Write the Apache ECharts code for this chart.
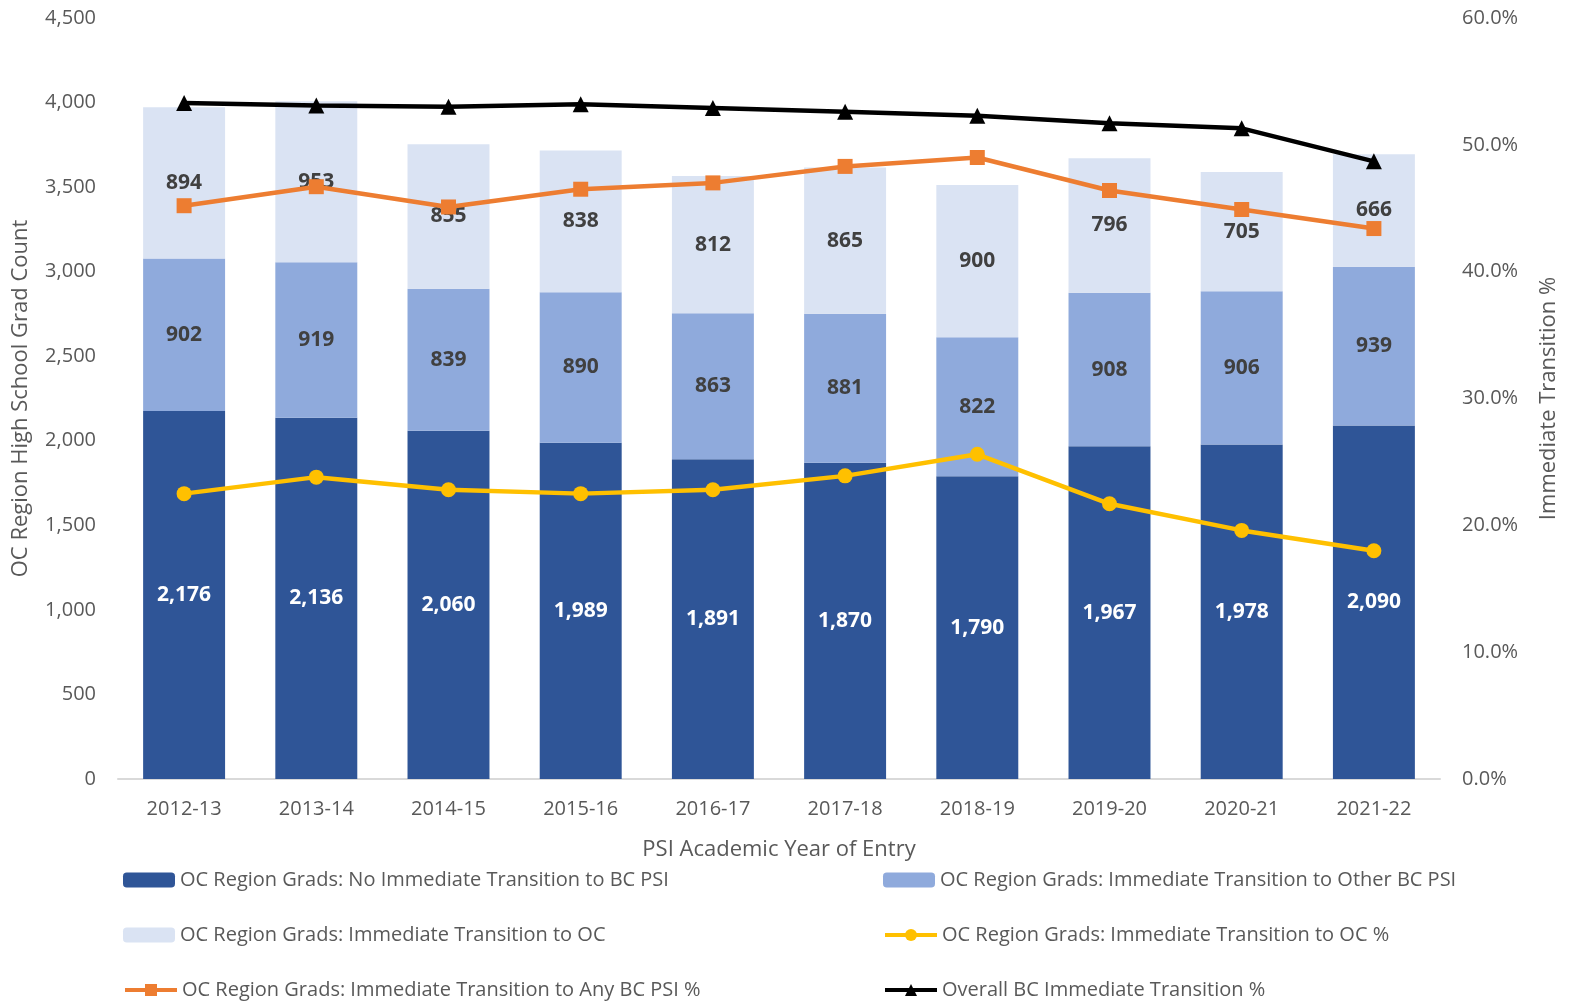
<!DOCTYPE html>
<html lang="en">
<head>
    <meta charset="UTF-8">
    <title>OC Region Grad Transitions</title>
    <script src="https://cdn.jsdelivr.net/npm/echarts@6/dist/echarts.min.js"></script>
    <style>
        html, body { margin: 0; padding: 0; background: #fff; }
        #main { width: 1572px; height: 1002px; }
    </style>
</head>
<body>
<div id="main"></div>
<script type="text/javascript">
    // data
    var years = ['2012-13','2013-14','2014-15','2015-16','2016-17','2017-18','2018-19','2019-20','2020-21','2021-22'];
    var noTransition = [2176, 2136, 2060, 1989, 1891, 1870, 1790, 1967, 1978, 2090];
    var otherBcPsi = [902, 919, 839, 890, 863, 881, 822, 908, 906, 939];
    var toOc = [894, 953, 855, 838, 812, 865, 900, 796, 705, 666];
    var toOcPct = [22.5, 23.8, 22.8, 22.5, 22.8, 23.9, 25.6, 21.7, 19.6, 18.0];
    var anyBcPct = [45.2, 46.7, 45.1, 46.5, 47.0, 48.3, 49.0, 46.4, 44.9, 43.4];
    var overallBcPct = [53.3, 53.1, 53.0, 53.2, 52.9, 52.6, 52.3, 51.7, 51.3, 48.7];
    var leftTicks = { min: 0, max: 4500, interval: 500 };
    var rightTicks = { min: 0, max: 60, interval: 10 };

    var FONT = 'Open Sans';
    var GREY = '#595959';

    var names = {
        dark: 'OC Region Grads: No Immediate Transition to BC PSI',
        mid: 'OC Region Grads: Immediate Transition to Other BC PSI',
        light: 'OC Region Grads: Immediate Transition to OC',
        yellow: 'OC Region Grads: Immediate Transition to OC %',
        orange: 'OC Region Grads: Immediate Transition to Any BC PSI %',
        black: 'Overall BC Immediate Transition %'
    };

    function barLabel(color) {
        return {
            show: true, position: 'inside', color: color,
            fontFamily: FONT, fontWeight: 'bold', fontSize: 21,
            formatter: function (p) { return p.value.toLocaleString('en-US'); }
        };
    }

    // one legend per entry so the 3x2 grid sits where the original has it
    function legendAt(name, left, top) {
        return {
            left: left, top: top, padding: 0, itemWidth: 52, itemHeight: 15,
            lineStyle: { width: 4 },
            textStyle: { color: GREY, fontFamily: FONT, fontSize: 20 },
            data: [name]
        };
    }

    var myChart = echarts.init(document.getElementById('main'));
    myChart.setOption({
        animation: false,
        textStyle: { fontFamily: FONT },
        grid: { left: 118, right: 132, top: 18, bottom: 223 },
        legend: [
            legendAt(names.dark, 123, 870),
            legendAt(names.mid, 883, 870),
            legendAt(names.light, 123, 925),
            legendAt(names.yellow, 883, 925),
            legendAt(names.orange, 123, 980),
            legendAt(names.black, 883, 980)
        ],
        xAxis: {
            type: 'category', data: years,
            axisLine: { lineStyle: { color: '#D9D9D9', width: 2 } },
            axisTick: { show: false },
            axisLabel: { color: GREY, fontSize: 20, margin: 20, fontFamily: FONT },
            name: 'PSI Academic Year of Entry', nameLocation: 'middle', nameGap: 60,
            nameTextStyle: { color: GREY, fontSize: 22, fontFamily: FONT }
        },
        yAxis: [{
            type: 'value', min: leftTicks.min, max: leftTicks.max, interval: leftTicks.interval,
            splitLine: { show: false },
            axisLabel: {
                color: GREY, fontSize: 20, margin: 22, fontFamily: FONT,
                formatter: function (v) { return v.toLocaleString('en-US'); }
            },
            name: 'OC Region High School Grad Count', nameLocation: 'middle', nameGap: 86,
            nameTextStyle: { color: GREY, fontSize: 22, fontFamily: FONT }
        }, {
            type: 'value', min: rightTicks.min, max: rightTicks.max, interval: rightTicks.interval,
            splitLine: { show: false },
            axisLabel: {
                color: GREY, fontSize: 20, margin: 22, fontFamily: FONT,
                formatter: function (v) { return v.toFixed(1) + '%'; }
            },
            name: 'Immediate Transition %', nameLocation: 'middle', nameGap: 98,
            nameTextStyle: { color: GREY, fontSize: 22, fontFamily: FONT }
        }],
        series: [{
            name: names.dark, type: 'bar', stack: 'grads', barWidth: '62%',
            itemStyle: { color: '#2F5597' }, label: barLabel('#ffffff'),
            data: noTransition
        }, {
            name: names.mid, type: 'bar', stack: 'grads',
            itemStyle: { color: '#8FAADC' }, label: barLabel('#404040'),
            data: otherBcPsi
        }, {
            name: names.light, type: 'bar', stack: 'grads',
            itemStyle: { color: '#DAE3F3' }, label: barLabel('#404040'),
            data: toOc
        }, {
            name: names.yellow, type: 'line', yAxisIndex: 1,
            symbol: 'circle', symbolSize: 15,
            lineStyle: { color: '#FFC000', width: 4.5 },
            itemStyle: { color: '#FFC000' },
            data: toOcPct
        }, {
            name: names.orange, type: 'line', yAxisIndex: 1,
            symbol: 'rect', symbolSize: 15,
            lineStyle: { color: '#ED7D31', width: 4.5 },
            itemStyle: { color: '#ED7D31' },
            data: anyBcPct
        }, {
            name: names.black, type: 'line', yAxisIndex: 1,
            symbol: 'triangle', symbolSize: 16,
            lineStyle: { color: '#000000', width: 4.5 },
            itemStyle: { color: '#000000' },
            data: overallBcPct
        }]
    });
</script>
</body>
</html>
